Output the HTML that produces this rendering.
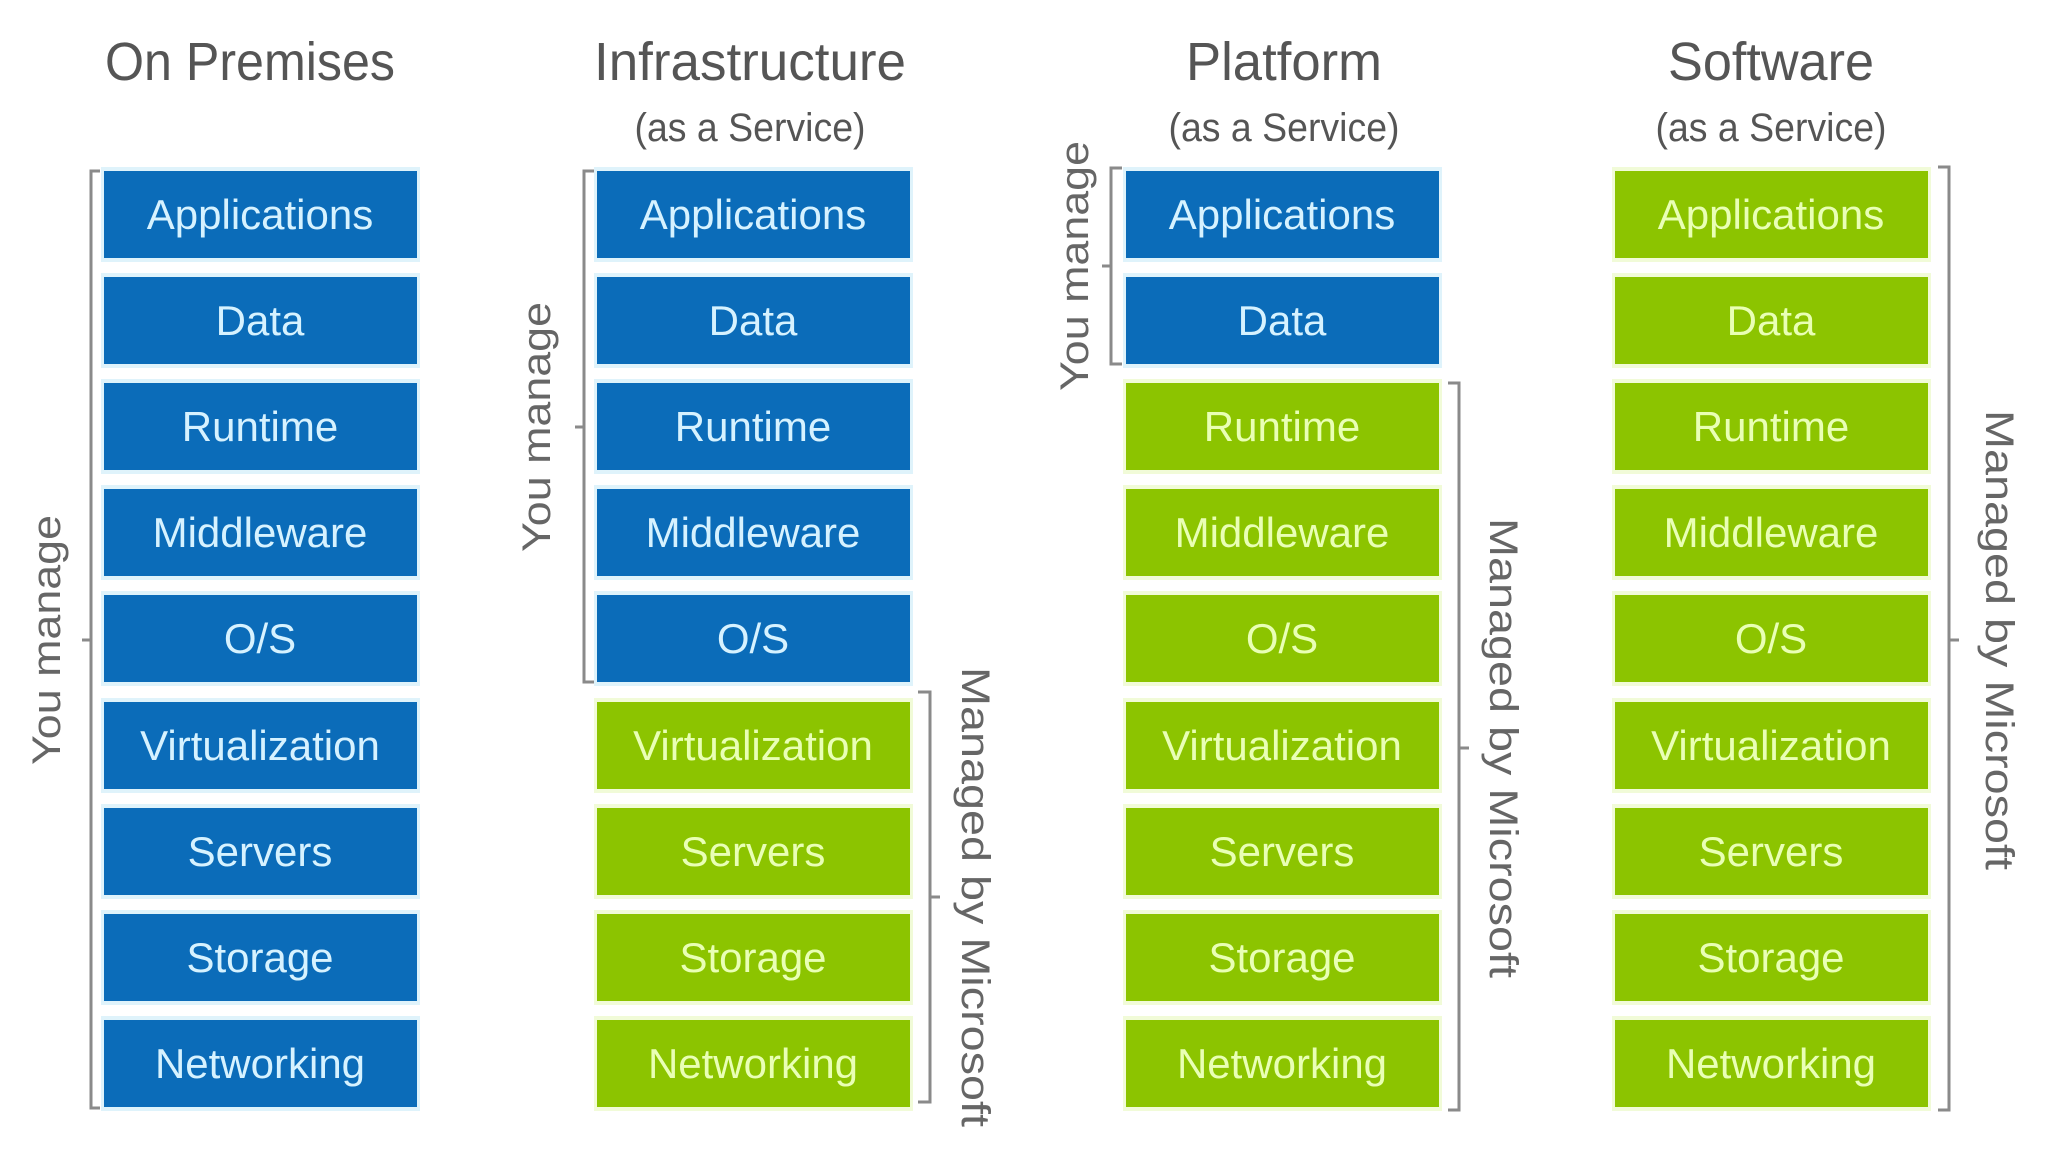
<!DOCTYPE html>
<html><head><meta charset="utf-8"><style>
html,body{margin:0;padding:0;background:#fff;width:2048px;height:1152px;overflow:hidden}
svg{display:block}
.b{fill:#0b6cb9}.g{fill:#8cc400}
.bh{fill:#dff3fb}.gh{fill:#f1fbd8}
.bt{fill:#d6f2ff}.gt{fill:#e9ffb5}
</style></head><body>
<svg width="2048" height="1152" viewBox="0 0 2048 1152" xmlns="http://www.w3.org/2000/svg" font-family="Liberation Sans, sans-serif">
<rect width="2048" height="1152" fill="#fff"/>
<g fill="#555" text-anchor="middle" font-size="54">
<text x="250" y="80" textLength="290" lengthAdjust="spacingAndGlyphs">On Premises</text>
<text x="750" y="80" textLength="312" lengthAdjust="spacingAndGlyphs">Infrastructure</text>
<text x="1284" y="80" textLength="196" lengthAdjust="spacingAndGlyphs">Platform</text>
<text x="1771" y="80" textLength="206" lengthAdjust="spacingAndGlyphs">Software</text>
</g>
<g fill="#555" text-anchor="middle" font-size="40">
<text x="750" y="141" textLength="231" lengthAdjust="spacingAndGlyphs">(as a Service)</text>
<text x="1284" y="141" textLength="231" lengthAdjust="spacingAndGlyphs">(as a Service)</text>
<text x="1771" y="141" textLength="231" lengthAdjust="spacingAndGlyphs">(as a Service)</text>
</g>

<g font-size="42" text-anchor="middle">
<!-- Column 1: all blue -->
<g transform="translate(104,0)">
<rect class="bh" x="-3" y="167" width="319" height="95"/><rect class="b" x="0" y="171" width="313" height="87"/><text class="bt" x="156" y="229">Applications</text>
<rect class="bh" x="-3" y="273" width="319" height="95"/><rect class="b" x="0" y="277" width="313" height="87"/><text class="bt" x="156" y="335">Data</text>
<rect class="bh" x="-3" y="379" width="319" height="95"/><rect class="b" x="0" y="383" width="313" height="87"/><text class="bt" x="156" y="441">Runtime</text>
<rect class="bh" x="-3" y="485" width="319" height="95"/><rect class="b" x="0" y="489" width="313" height="87"/><text class="bt" x="156" y="547">Middleware</text>
<rect class="bh" x="-3" y="591" width="319" height="95"/><rect class="b" x="0" y="595" width="313" height="87"/><text class="bt" x="156" y="653">O/S</text>
<rect class="bh" x="-3" y="698" width="319" height="95"/><rect class="b" x="0" y="702" width="313" height="87"/><text class="bt" x="156" y="760">Virtualization</text>
<rect class="bh" x="-3" y="804" width="319" height="95"/><rect class="b" x="0" y="808" width="313" height="87"/><text class="bt" x="156" y="866">Servers</text>
<rect class="bh" x="-3" y="910" width="319" height="95"/><rect class="b" x="0" y="914" width="313" height="87"/><text class="bt" x="156" y="972">Storage</text>
<rect class="bh" x="-3" y="1016" width="319" height="95"/><rect class="b" x="0" y="1020" width="313" height="87"/><text class="bt" x="156" y="1078">Networking</text>
</g>
<!-- Column 2: 5 blue, 4 green -->
<g transform="translate(597,0)">
<rect class="bh" x="-3" y="167" width="319" height="95"/><rect class="b" x="0" y="171" width="313" height="87"/><text class="bt" x="156" y="229">Applications</text>
<rect class="bh" x="-3" y="273" width="319" height="95"/><rect class="b" x="0" y="277" width="313" height="87"/><text class="bt" x="156" y="335">Data</text>
<rect class="bh" x="-3" y="379" width="319" height="95"/><rect class="b" x="0" y="383" width="313" height="87"/><text class="bt" x="156" y="441">Runtime</text>
<rect class="bh" x="-3" y="485" width="319" height="95"/><rect class="b" x="0" y="489" width="313" height="87"/><text class="bt" x="156" y="547">Middleware</text>
<rect class="bh" x="-3" y="591" width="319" height="95"/><rect class="b" x="0" y="595" width="313" height="87"/><text class="bt" x="156" y="653">O/S</text>
<rect class="gh" x="-3" y="698" width="319" height="95"/><rect class="g" x="0" y="702" width="313" height="87"/><text class="gt" x="156" y="760">Virtualization</text>
<rect class="gh" x="-3" y="804" width="319" height="95"/><rect class="g" x="0" y="808" width="313" height="87"/><text class="gt" x="156" y="866">Servers</text>
<rect class="gh" x="-3" y="910" width="319" height="95"/><rect class="g" x="0" y="914" width="313" height="87"/><text class="gt" x="156" y="972">Storage</text>
<rect class="gh" x="-3" y="1016" width="319" height="95"/><rect class="g" x="0" y="1020" width="313" height="87"/><text class="gt" x="156" y="1078">Networking</text>
</g>
<!-- Column 3: 2 blue, 7 green -->
<g transform="translate(1126,0)">
<rect class="bh" x="-3" y="167" width="319" height="95"/><rect class="b" x="0" y="171" width="313" height="87"/><text class="bt" x="156" y="229">Applications</text>
<rect class="bh" x="-3" y="273" width="319" height="95"/><rect class="b" x="0" y="277" width="313" height="87"/><text class="bt" x="156" y="335">Data</text>
<rect class="gh" x="-3" y="379" width="319" height="95"/><rect class="g" x="0" y="383" width="313" height="87"/><text class="gt" x="156" y="441">Runtime</text>
<rect class="gh" x="-3" y="485" width="319" height="95"/><rect class="g" x="0" y="489" width="313" height="87"/><text class="gt" x="156" y="547">Middleware</text>
<rect class="gh" x="-3" y="591" width="319" height="95"/><rect class="g" x="0" y="595" width="313" height="87"/><text class="gt" x="156" y="653">O/S</text>
<rect class="gh" x="-3" y="698" width="319" height="95"/><rect class="g" x="0" y="702" width="313" height="87"/><text class="gt" x="156" y="760">Virtualization</text>
<rect class="gh" x="-3" y="804" width="319" height="95"/><rect class="g" x="0" y="808" width="313" height="87"/><text class="gt" x="156" y="866">Servers</text>
<rect class="gh" x="-3" y="910" width="319" height="95"/><rect class="g" x="0" y="914" width="313" height="87"/><text class="gt" x="156" y="972">Storage</text>
<rect class="gh" x="-3" y="1016" width="319" height="95"/><rect class="g" x="0" y="1020" width="313" height="87"/><text class="gt" x="156" y="1078">Networking</text>
</g>
<!-- Column 4: all green -->
<g transform="translate(1615,0)">
<rect class="gh" x="-3" y="167" width="319" height="95"/><rect class="g" x="0" y="171" width="313" height="87"/><text class="gt" x="156" y="229">Applications</text>
<rect class="gh" x="-3" y="273" width="319" height="95"/><rect class="g" x="0" y="277" width="313" height="87"/><text class="gt" x="156" y="335">Data</text>
<rect class="gh" x="-3" y="379" width="319" height="95"/><rect class="g" x="0" y="383" width="313" height="87"/><text class="gt" x="156" y="441">Runtime</text>
<rect class="gh" x="-3" y="485" width="319" height="95"/><rect class="g" x="0" y="489" width="313" height="87"/><text class="gt" x="156" y="547">Middleware</text>
<rect class="gh" x="-3" y="591" width="319" height="95"/><rect class="g" x="0" y="595" width="313" height="87"/><text class="gt" x="156" y="653">O/S</text>
<rect class="gh" x="-3" y="698" width="319" height="95"/><rect class="g" x="0" y="702" width="313" height="87"/><text class="gt" x="156" y="760">Virtualization</text>
<rect class="gh" x="-3" y="804" width="319" height="95"/><rect class="g" x="0" y="808" width="313" height="87"/><text class="gt" x="156" y="866">Servers</text>
<rect class="gh" x="-3" y="910" width="319" height="95"/><rect class="g" x="0" y="914" width="313" height="87"/><text class="gt" x="156" y="972">Storage</text>
<rect class="gh" x="-3" y="1016" width="319" height="95"/><rect class="g" x="0" y="1020" width="313" height="87"/><text class="gt" x="156" y="1078">Networking</text>
</g>
</g>

<g stroke="#8a8a8a" stroke-width="3" fill="none">
<path d="M100 171 H91 V1108 H100 M91 640 H82"/>
<path d="M594 171 H584 V682 H594 M584 427 H575"/>
<path d="M918 692 H930 V1102 H918 M930 897 H940"/>
<path d="M1122 168 H1111 V364 H1122 M1111 266 H1102"/>
<path d="M1448 383 H1459 V1110 H1448 M1459 748 H1469"/>
<path d="M1938 167 H1949 V1110 H1938 M1949 640 H1959"/>
</g>
<g fill="#666" font-size="40" text-anchor="middle">
<text transform="translate(60,640) rotate(-90)" textLength="250" lengthAdjust="spacingAndGlyphs">You manage</text>
<text transform="translate(550,427) rotate(-90)" textLength="250" lengthAdjust="spacingAndGlyphs">You manage</text>
<text transform="translate(1088,266) rotate(-90)" textLength="250" lengthAdjust="spacingAndGlyphs">You manage</text>
<text transform="translate(962,897) rotate(90)" textLength="460" lengthAdjust="spacingAndGlyphs">Managed by Microsoft</text>
<text transform="translate(1490,748) rotate(90)" textLength="460" lengthAdjust="spacingAndGlyphs">Managed by Microsoft</text>
<text transform="translate(1986,640) rotate(90)" textLength="460" lengthAdjust="spacingAndGlyphs">Managed by Microsoft</text>
</g>
</svg>
</body></html>
